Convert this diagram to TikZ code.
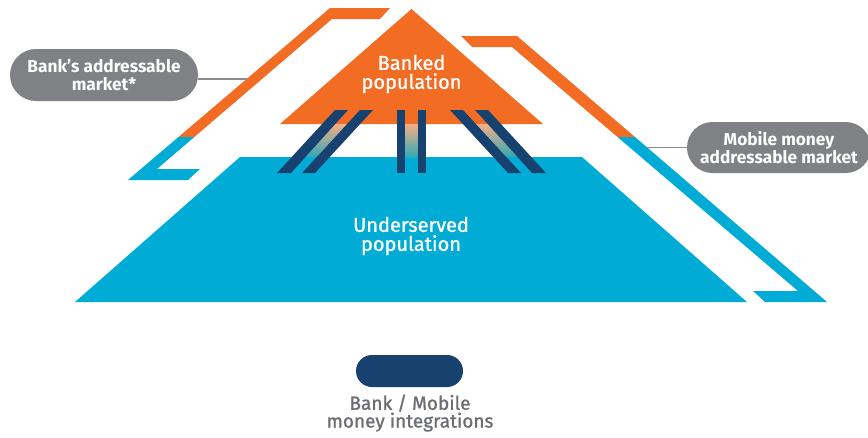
\documentclass[tikz,border=0pt]{standalone}
\usepackage{fontspec}
\setmainfont{Fira Sans}
\newfontfamily\medfont[FakeBold=1.2]{Fira Sans}
\definecolor{orangeC}{HTML}{F26C23}
\definecolor{blueC}{HTML}{00ACD5}
\definecolor{navy}{HTML}{17416F}
\definecolor{pillgray}{HTML}{808184}
\definecolor{legendtext}{HTML}{6D6E71}
\definecolor{linegray}{HTML}{8C8C8C}
\definecolor{tealC}{HTML}{2FA9B4}
\definecolor{midC}{HTML}{C98A5E}
\begin{document}
\begin{tikzpicture}[x=1pt,y=-1pt,
  bar/.style={fill=navy},
  glow/.style={top color=orangeC!55!white, middle color=midC, bottom color=tealC},
  pill/.style={fill=pillgray, text=white, inner sep=0pt, align=center,
    font=\bfseries\fontsize{17.3}{17.5}\selectfont},
  conn/.style={draw=linegray, line width=1.2pt},
  inlabel/.style={text=white, align=center, font=\medfont\fontsize{20}{19}\selectfont},
  legendlabel/.style={text=legendtext, align=center, font=\medfont\fontsize{19}{16}\selectfont}]
\useasboundingbox (0,0) rectangle (868,437);

% Bank's addressable market band
\fill[orangeC] (330,8) -- (390,8) -- (380,19) -- (332,19) -- (194.3,137) -- (178.5,137) -- cycle;
\fill[blueC] (178.5,137) -- (194.3,137) -- (157,169) -- (200,169) -- (188,180) -- (128,180) -- cycle;

% Mobile money addressable market band
\fill[orangeC] (461,36) -- (517,36) -- (635,137) -- (617.5,137) -- (512,47) -- (472,47) -- cycle;
\fill[blueC] (617.5,137) -- (635,137) -- (827,302) -- (765,302) -- (753,291) -- (798,291) -- cycle;

% Banked population triangle
\fill[orangeC] (411.5,9) -- (543,124) -- (280,124) -- cycle;
% Underserved population trapezoid
\fill[blueC] (240,157) -- (582,157) -- (747,302) -- (75,302) -- cycle;

% gradients between integration bars
\shade[glow] (335.3,124) -- (347.1,124) -- (316.7,157) -- (305.5,157) -- cycle;
\shade[glow] (405,124) -- (418,124) -- (418,157) -- (405,157) -- cycle;
\shade[glow] (475.9,124) -- (487.7,124) -- (517.5,157) -- (506.3,157) -- cycle;

% integration bars
\fill[bar] (335,110) -- (348,110) -- (291,173) -- (277,173) -- cycle;
\fill[bar] (360,110) -- (373,110) -- (315,173) -- (302,173) -- cycle;
\fill[bar] (397,110) -- (405,110) -- (405,173) -- (397,173) -- cycle;
\fill[bar] (418,110) -- (426,110) -- (426,173) -- (418,173) -- cycle;
\fill[bar] (450,110) -- (463,110) -- (521,173) -- (508,173) -- cycle;
\fill[bar] (475,110) -- (488,110) -- (546,173) -- (532,173) -- cycle;

% labels inside shapes
\node[inlabel] (banked) at (411.5,74) {Banked\\population};
\node[inlabel] (under) at (411,236) {Underserved\\population};

% pills
\node[pill, minimum width=188pt, minimum height=52pt, rounded corners=26pt] (bankpill) at (104,75) {Bank’s addressable\\market*};
\node[pill, minimum width=184pt, minimum height=51pt, rounded corners=25.5pt] (mmpill) at (779,147.5) {Mobile money\\addressable market};

\coordinate (lb) at (247,79);
\coordinate (mb) at (647,147.5);
\draw[conn] (lb -| bankpill.east) -- (lb);
\draw[conn] (mb) -- (mmpill.west);

% legend
\node[fill=navy, minimum width=107pt, minimum height=32pt, rounded corners=16pt, inner sep=0pt] (legpill) at (409.5,371) {};
\node[legendlabel] (legtext) at (410,413) {Bank / Mobile\\money integrations};
\end{tikzpicture}
\end{document}
